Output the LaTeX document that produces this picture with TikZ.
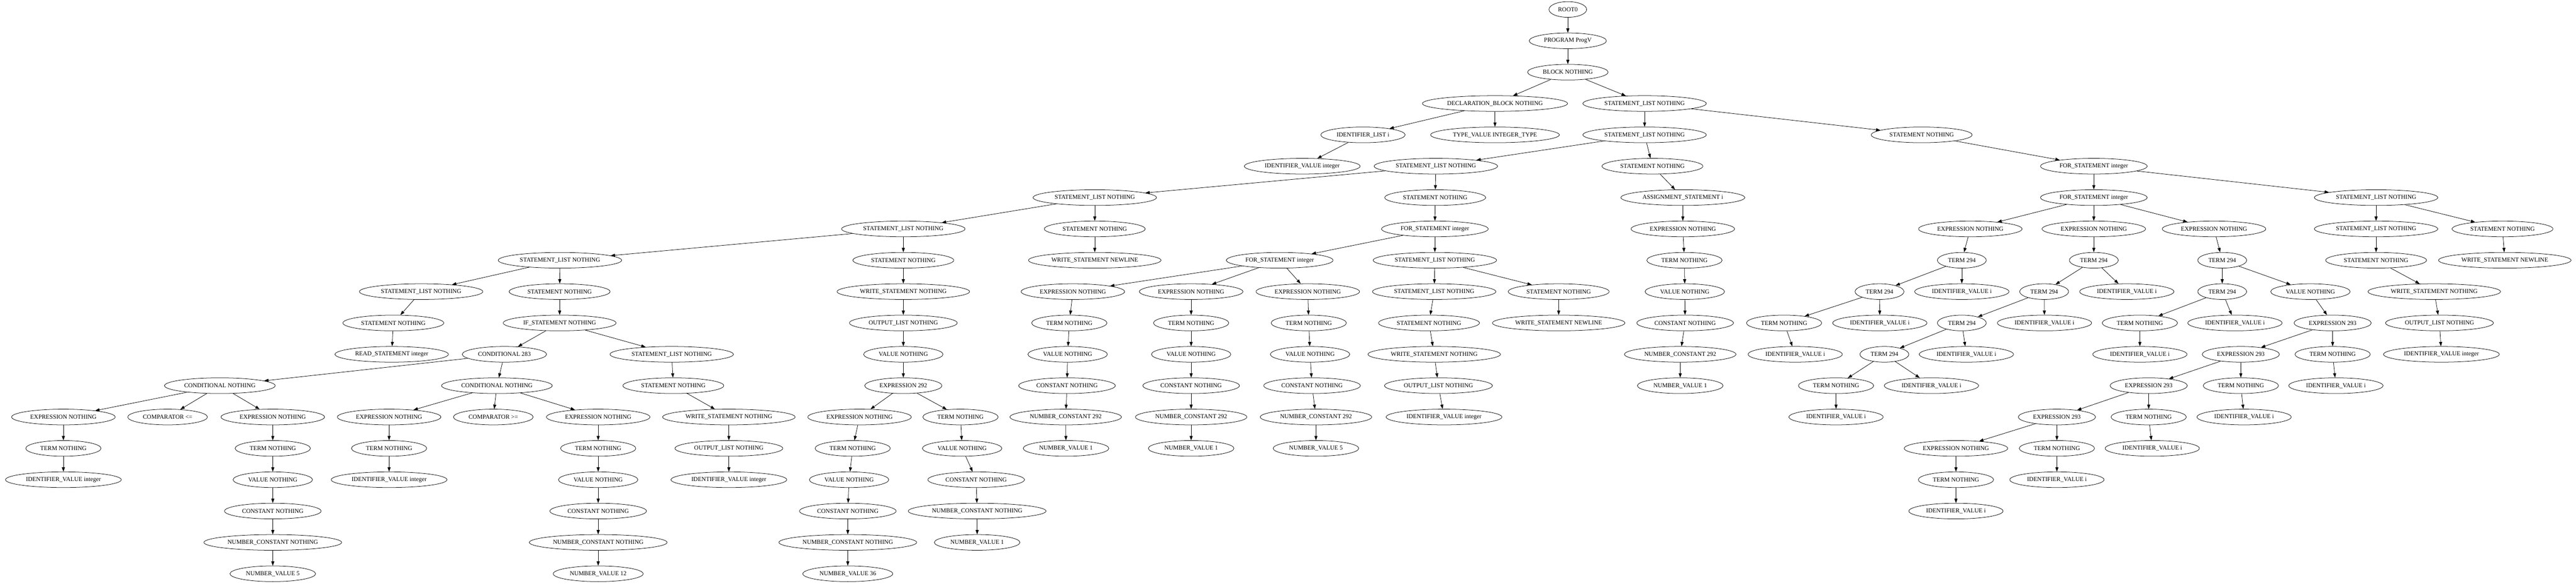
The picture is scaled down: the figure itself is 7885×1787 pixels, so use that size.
\documentclass[tikz,border=0pt]{standalone}
\usepackage{fontspec}
\setmainfont{Liberation Serif}
\usetikzlibrary{shapes.geometric,arrows.meta}
\newcommand\tn[4]{\node[tnode] (#1) at (#2,{29+96*#3}) {#4};}
\newcommand\ed[2]{\draw[tedge] (#1) -- (#2);}
\begin{document}
\begin{tikzpicture}[x=0.75pt,y=-0.75pt,
  tnode/.style={ellipse, draw, line width=0.9pt, inner xsep=8pt, inner ysep=4pt,
    minimum height=36pt, font=\fontsize{14pt}{16pt}\selectfont},
  tedge/.style={-{Triangle[length=10pt,width=7pt]}, line width=0.9pt}]
\fill[white] (0,0) rectangle (7885,1787);
\useasboundingbox (0,0) rectangle (7885,1787);
% level 0-2
\tn{root}{4799}{0}{ROOT0}
\tn{prog}{4799}{1}{PROGRAM ProgV}
\tn{block}{4799}{2}{BLOCK NOTHING}
% level 3
\tn{decl}{4576}{3}{DECLARATION\_BLOCK NOTHING}
\tn{slA}{5034}{3}{STATEMENT\_LIST NOTHING}
% level 4
\tn{idl}{4172}{4}{IDENTIFIER\_LIST i}
\tn{typ}{4576}{4}{TYPE\_VALUE INTEGER\_TYPE}
\tn{slB}{5034}{4}{STATEMENT\_LIST NOTHING}
\tn{stR}{5882}{4}{STATEMENT NOTHING}
% level 5
\tn{idv}{3986}{5}{IDENTIFIER\_VALUE integer}
\tn{slC}{4395}{5}{STATEMENT\_LIST NOTHING}
\tn{stB}{5058}{5}{STATEMENT NOTHING}
\tn{forA}{6409}{5}{FOR\_STATEMENT integer}
% level 6
\tn{slD}{3351}{6}{STATEMENT\_LIST NOTHING}
\tn{stC}{4393}{6}{STATEMENT NOTHING}
\tn{asg}{5151}{6}{ASSIGNMENT\_STATEMENT i}
\tn{forB}{6409}{6}{FOR\_STATEMENT integer}
\tn{slE}{7273}{6}{STATEMENT\_LIST NOTHING}
% level 7
\tn{slF}{2765}{7}{STATEMENT\_LIST NOTHING}
\tn{stD}{3351}{7}{STATEMENT NOTHING}
\tn{forC}{4392}{7}{FOR\_STATEMENT integer}
\tn{ex1}{5151}{7}{EXPRESSION NOTHING}
\tn{ex2}{6031}{7}{EXPRESSION NOTHING}
\tn{ex3}{6409}{7}{EXPRESSION NOTHING}
\tn{ex4}{6777}{7}{EXPRESSION NOTHING}
\tn{slG}{7273}{7}{STATEMENT\_LIST NOTHING}
\tn{stE}{7660}{7}{STATEMENT NOTHING}
% level 8
\tn{slH}{1714}{8}{STATEMENT\_LIST NOTHING}
\tn{stF}{2765}{8}{STATEMENT NOTHING}
\tn{wnl1}{3351}{8}{WRITE\_STATEMENT NEWLINE}
\tn{forD}{3917}{8}{FOR\_STATEMENT integer}
\tn{slI}{4392}{8}{STATEMENT\_LIST NOTHING}
\tn{tm1}{5156}{8}{TERM NOTHING}
\tn{t2}{6005}{8}{TERM 294}
\tn{t3}{6409}{8}{TERM 294}
\tn{t4}{6802}{8}{TERM 294}
\tn{stG}{7273}{8}{STATEMENT NOTHING}
\tn{wnl2}{7667}{8}{WRITE\_STATEMENT NEWLINE}
% level 9
\tn{slJ}{1289}{9}{STATEMENT\_LIST NOTHING}
\tn{stH}{1713}{9}{STATEMENT NOTHING}
\tn{ws1}{2765}{9}{WRITE\_STATEMENT NOTHING}
\tn{ex5}{3284}{9}{EXPRESSION NOTHING}
\tn{ex6}{3646}{9}{EXPRESSION NOTHING}
\tn{ex7}{4003}{9}{EXPRESSION NOTHING}
\tn{slK}{4390}{9}{STATEMENT\_LIST NOTHING}
\tn{stI}{4771}{9}{STATEMENT NOTHING}
\tn{v1}{5157}{9}{VALUE NOTHING}
\tn{t5}{5753}{9}{TERM 294}
\tn{iv1}{6005}{9}{IDENTIFIER\_VALUE i}
\tn{t6}{6257}{9}{TERM 294}
\tn{iv2}{6510}{9}{IDENTIFIER\_VALUE i}
\tn{t7}{6802}{9}{TERM 294}
\tn{v2}{7072}{9}{VALUE NOTHING}
\tn{ws2}{7451}{9}{WRITE\_STATEMENT NOTHING}
% level 10
\tn{stJ}{1204}{10}{STATEMENT NOTHING}
\tn{if1}{1713}{10}{IF\_STATEMENT NOTHING}
\tn{ol1}{2765}{10}{OUTPUT\_LIST NOTHING}
\tn{tm2}{3273}{10}{TERM NOTHING}
\tn{tm3}{3646}{10}{TERM NOTHING}
\tn{tm4}{4006}{10}{TERM NOTHING}
\tn{stK}{4374}{10}{STATEMENT NOTHING}
\tn{wnl3}{4771}{10}{WRITE\_STATEMENT NEWLINE}
\tn{c1}{5158}{10}{CONSTANT NOTHING}
\tn{tm5}{5461}{10}{TERM NOTHING}
\tn{iv3}{5754}{10}{IDENTIFIER\_VALUE i}
\tn{t8}{6005}{10}{TERM 294}
\tn{iv4}{6258}{10}{IDENTIFIER\_VALUE i}
\tn{tm6}{6550}{10}{TERM NOTHING}
\tn{iv5}{6841}{10}{IDENTIFIER\_VALUE i}
\tn{eA}{7140}{10}{EXPRESSION 293}
\tn{ol2}{7467}{10}{OUTPUT\_LIST NOTHING}
% level 11
\tn{rd}{1199}{11}{READ\_STATEMENT integer}
\tn{cd}{1544}{11}{CONDITIONAL 283}
\tn{slL}{2056}{11}{STATEMENT\_LIST NOTHING}
\tn{v3}{2765}{11}{VALUE NOTHING}
\tn{v4}{3268}{11}{VALUE NOTHING}
\tn{v5}{3646}{11}{VALUE NOTHING}
\tn{v6}{4010}{11}{VALUE NOTHING}
\tn{ws3}{4390}{11}{WRITE\_STATEMENT NOTHING}
\tn{nc1}{5143}{11}{NUMBER\_CONSTANT 292}
\tn{iv6}{5495}{11}{IDENTIFIER\_VALUE i}
\tn{t9}{5768}{11}{TERM 294}
\tn{iv7}{6019}{11}{IDENTIFIER\_VALUE i}
\tn{iv8}{6550}{11}{IDENTIFIER\_VALUE i}
\tn{eB}{6859}{11}{EXPRESSION 293}
\tn{tm7}{7140}{11}{TERM NOTHING}
\tn{ivi1}{7473}{11}{IDENTIFIER\_VALUE integer}
% level 12
\tn{cdA}{673}{12}{CONDITIONAL NOTHING}
\tn{cdB}{1521}{12}{CONDITIONAL NOTHING}
\tn{stL}{2061}{12}{STATEMENT NOTHING}
\tn{e292}{2765}{12}{EXPRESSION 292}
\tn{c2}{3266}{12}{CONSTANT NOTHING}
\tn{c3}{3646}{12}{CONSTANT NOTHING}
\tn{c4}{4016}{12}{CONSTANT NOTHING}
\tn{ol3}{4403}{12}{OUTPUT\_LIST NOTHING}
\tn{nv1}{5143}{12}{NUMBER\_VALUE 1}
\tn{tm8}{5620}{12}{TERM NOTHING}
\tn{iv9}{5912}{12}{IDENTIFIER\_VALUE i}
\tn{eC}{6577}{12}{EXPRESSION 293}
\tn{tm9}{6859}{12}{TERM NOTHING}
\tn{iv10}{7150}{12}{IDENTIFIER\_VALUE i}
% level 13
\tn{exA}{194}{13}{EXPRESSION NOTHING}
\tn{cmp1}{513}{13}{COMPARATOR <=}
\tn{exB}{835}{13}{EXPRESSION NOTHING}
\tn{exC}{1191}{13}{EXPRESSION NOTHING}
\tn{cmp2}{1510}{13}{COMPARATOR >=}
\tn{exD}{1831}{13}{EXPRESSION NOTHING}
\tn{ws4}{2231}{13}{WRITE\_STATEMENT NOTHING}
\tn{ex8}{2631}{13}{EXPRESSION NOTHING}
\tn{tm10}{2940}{13}{TERM NOTHING}
\tn{nc2}{3262}{13}{NUMBER\_CONSTANT 292}
\tn{nc3}{3646}{13}{NUMBER\_CONSTANT 292}
\tn{nc4}{4028}{13}{NUMBER\_CONSTANT 292}
\tn{ivi2}{4420}{13}{IDENTIFIER\_VALUE integer}
\tn{iv11}{5620}{13}{IDENTIFIER\_VALUE i}
\tn{eD}{6296}{13}{EXPRESSION 293}
\tn{tm11}{6577}{13}{TERM NOTHING}
\tn{iv12}{6869}{13}{IDENTIFIER\_VALUE i}
% level 14
\tn{tmA}{194}{14}{TERM NOTHING}
\tn{tmB}{835}{14}{TERM NOTHING}
\tn{tmC}{1191}{14}{TERM NOTHING}
\tn{tmD}{1831}{14}{TERM NOTHING}
\tn{ol4}{2231}{14}{OUTPUT\_LIST NOTHING}
\tn{tm12}{2610}{14}{TERM NOTHING}
\tn{v7}{2945}{14}{VALUE NOTHING}
\tn{nv2}{3263}{14}{NUMBER\_VALUE 1}
\tn{nv3}{3646}{14}{NUMBER\_VALUE 1}
\tn{nv4}{4028}{14}{NUMBER\_VALUE 5}
\tn{ex9}{5987}{14}{EXPRESSION NOTHING}
\tn{tm13}{6296}{14}{TERM NOTHING}
\tn{iv13}{6588}{14}{IDENTIFIER\_VALUE i}
% level 15
\tn{ivA}{194}{15}{IDENTIFIER\_VALUE integer}
\tn{vB}{835}{15}{VALUE NOTHING}
\tn{ivC}{1191}{15}{IDENTIFIER\_VALUE integer}
\tn{vD}{1831}{15}{VALUE NOTHING}
\tn{ivi3}{2231}{15}{IDENTIFIER\_VALUE integer}
\tn{v8}{2599}{15}{VALUE NOTHING}
\tn{c5}{2988}{15}{CONSTANT NOTHING}
\tn{tm14}{5987}{15}{TERM NOTHING}
\tn{iv14}{6296}{15}{IDENTIFIER\_VALUE i}
% level 16
\tn{cB}{835}{16}{CONSTANT NOTHING}
\tn{cD}{1831}{16}{CONSTANT NOTHING}
\tn{c6}{2595}{16}{CONSTANT NOTHING}
\tn{nc5}{2991}{16}{NUMBER\_CONSTANT NOTHING}
\tn{iv15}{5987}{16}{IDENTIFIER\_VALUE i}
% level 17
\tn{ncB}{835}{17}{NUMBER\_CONSTANT NOTHING}
\tn{ncD}{1831}{17}{NUMBER\_CONSTANT NOTHING}
\tn{nc6}{2595}{17}{NUMBER\_CONSTANT NOTHING}
\tn{nv5}{2991}{17}{NUMBER\_VALUE 1}
% level 18
\tn{nvB}{835}{18}{NUMBER\_VALUE 5}
\tn{nvD}{1831}{18}{NUMBER\_VALUE 12}
\tn{nv6}{2595}{18}{NUMBER\_VALUE 36}
% edges
\ed{root}{prog} \ed{prog}{block}
\ed{block}{decl} \ed{block}{slA}
\ed{decl}{idl} \ed{decl}{typ} \ed{slA}{slB} \ed{slA}{stR}
\ed{idl}{idv} \ed{slB}{slC} \ed{slB}{stB} \ed{stR}{forA}
\ed{slC}{slD} \ed{slC}{stC} \ed{stB}{asg} \ed{forA}{forB} \ed{forA}{slE}
\ed{slD}{slF} \ed{slD}{stD} \ed{stC}{forC} \ed{asg}{ex1}
\ed{forB}{ex2} \ed{forB}{ex3} \ed{forB}{ex4} \ed{slE}{slG} \ed{slE}{stE}
\ed{slF}{slH} \ed{slF}{stF} \ed{stD}{wnl1} \ed{forC}{forD} \ed{forC}{slI}
\ed{ex1}{tm1} \ed{ex2}{t2} \ed{ex3}{t3} \ed{ex4}{t4} \ed{slG}{stG} \ed{stE}{wnl2}
\ed{slH}{slJ} \ed{slH}{stH} \ed{stF}{ws1} \ed{forD}{ex5} \ed{forD}{ex6} \ed{forD}{ex7}
\ed{slI}{slK} \ed{slI}{stI} \ed{tm1}{v1} \ed{t2}{t5} \ed{t2}{iv1} \ed{t3}{t6} \ed{t3}{iv2}
\ed{t4}{t7} \ed{t4}{v2} \ed{stG}{ws2}
\ed{slJ}{stJ} \ed{stH}{if1} \ed{ws1}{ol1} \ed{ex5}{tm2} \ed{ex6}{tm3} \ed{ex7}{tm4}
\ed{slK}{stK} \ed{stI}{wnl3} \ed{v1}{c1} \ed{t5}{tm5} \ed{t5}{iv3} \ed{t6}{t8} \ed{t6}{iv4}
\ed{t7}{tm6} \ed{t7}{iv5} \ed{v2}{eA} \ed{ws2}{ol2}
\ed{stJ}{rd} \ed{if1}{cd} \ed{if1}{slL} \ed{ol1}{v3} \ed{tm2}{v4} \ed{tm3}{v5} \ed{tm4}{v6}
\ed{stK}{ws3} \ed{c1}{nc1} \ed{tm5}{iv6} \ed{t8}{t9} \ed{t8}{iv7} \ed{tm6}{iv8}
\ed{eA}{eB} \ed{eA}{tm7} \ed{ol2}{ivi1}
\ed{cd}{cdA} \ed{cd}{cdB} \ed{slL}{stL} \ed{v3}{e292} \ed{v4}{c2} \ed{v5}{c3} \ed{v6}{c4}
\ed{ws3}{ol3} \ed{nc1}{nv1} \ed{t9}{tm8} \ed{t9}{iv9} \ed{eB}{eC} \ed{eB}{tm9} \ed{tm7}{iv10}
\ed{cdA}{exA} \ed{cdA}{cmp1} \ed{cdA}{exB} \ed{cdB}{exC} \ed{cdB}{cmp2} \ed{cdB}{exD}
\ed{stL}{ws4} \ed{e292}{ex8} \ed{e292}{tm10} \ed{c2}{nc2} \ed{c3}{nc3} \ed{c4}{nc4}
\ed{ol3}{ivi2} \ed{tm8}{iv11} \ed{eC}{eD} \ed{eC}{tm11} \ed{tm9}{iv12}
\ed{exA}{tmA} \ed{exB}{tmB} \ed{exC}{tmC} \ed{exD}{tmD} \ed{ws4}{ol4} \ed{ex8}{tm12}
\ed{tm10}{v7} \ed{nc2}{nv2} \ed{nc3}{nv3} \ed{nc4}{nv4} \ed{eD}{ex9} \ed{eD}{tm13} \ed{tm11}{iv13}
\ed{tmA}{ivA} \ed{tmB}{vB} \ed{tmC}{ivC} \ed{tmD}{vD} \ed{ol4}{ivi3} \ed{tm12}{v8} \ed{v7}{c5}
\ed{ex9}{tm14} \ed{tm13}{iv14}
\ed{vB}{cB} \ed{vD}{cD} \ed{v8}{c6} \ed{c5}{nc5} \ed{tm14}{iv15}
\ed{cB}{ncB} \ed{cD}{ncD} \ed{c6}{nc6} \ed{nc5}{nv5}
\ed{ncB}{nvB} \ed{ncD}{nvD} \ed{nc6}{nv6}
\end{tikzpicture}
\end{document}
